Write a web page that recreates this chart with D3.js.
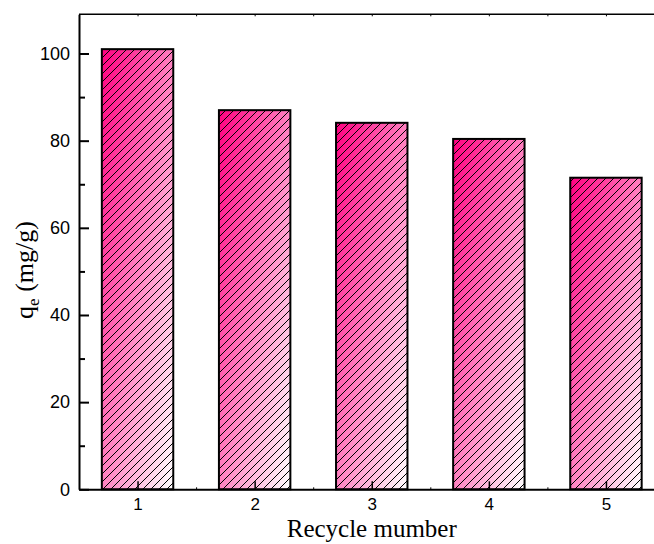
<!DOCTYPE html>
<html><head><meta charset="utf-8">
<script src="https://cdn.jsdelivr.net/npm/d3@7"></script>
<style>body{margin:0;background:#fff}</style>
</head><body><svg id="c" width="654" height="544"></svg>
<script>
const categories = [1, 2, 3, 4, 5];
const qeValues = [101.0, 87.0, 84.1, 80.4, 71.5];
const yTicks = [0, 20, 40, 60, 80, 100];
const yMinorTicks = [10, 30, 50, 70, 90];
const xMinorTicks = [1.5, 2.5, 3.5, 4.5, 5.5];
const xTitle = "Recycle mumber";

const svg = d3.select("#c");
const x = d3.scaleLinear().domain([0.5, 5.5]).range([79, 664.5]);
const y = d3.scaleLinear().domain([0, 109]).range([489.3, 14.3]);
const barW = 0.61;
const sans = "Liberation Sans, Arial, sans-serif";
const serif = "Liberation Serif, Times New Roman, serif";

const defs = svg.append("defs");
const grad = defs.append("linearGradient").attr("id", "barGrad")
  .attr("x1", 0).attr("y1", 0).attr("x2", 1).attr("y2", 1);
grad.append("stop").attr("offset", 0).attr("stop-color", "#ff0080");
grad.append("stop").attr("offset", 1).attr("stop-color", "#ffffff");

const sp = 8;
const pat = defs.append("pattern").attr("id", "hatch")
  .attr("patternUnits", "userSpaceOnUse").attr("width", sp).attr("height", sp);
pat.append("path")
  .attr("d", `M0,${sp} L${sp},0 M-1,1 L1,-1 M${sp - 1},${sp + 1} L${sp + 1},${sp - 1}`)
  .attr("stroke", "#000").attr("stroke-width", 1).attr("shape-rendering", "crispEdges");

const data = categories.map((c, i) => ({c, v: qeValues[i]}));
const g = svg.append("g");
const bx = d => x(d.c - barW / 2), bw = () => x(barW) - x(0);
g.selectAll(".bg").data(data).join("rect")
  .attr("x", bx).attr("width", bw).attr("y", d => y(d.v)).attr("height", d => y(0) - y(d.v))
  .attr("fill", "url(#barGrad)");
g.selectAll(".ht").data(data).join("rect")
  .attr("x", bx).attr("width", bw).attr("y", d => y(d.v)).attr("height", d => y(0) - y(d.v))
  .attr("fill", "url(#hatch)");
g.selectAll(".ol").data(data).join("rect")
  .attr("x", bx).attr("width", bw).attr("y", d => y(d.v)).attr("height", d => y(0) - y(d.v))
  .attr("fill", "none").attr("stroke", "#000").attr("stroke-width", 2);

// top frame line
svg.append("line").attr("x1", x(0.5)).attr("x2", 654).attr("y1", y(109)).attr("y2", y(109))
  .attr("stroke", "#000").attr("stroke-width", 1.5);
svg.append("g").attr("transform", `translate(0,${y(109)})`)
  .call(d3.axisTop(x).tickValues(categories.concat(xMinorTicks)).tickSize(-2).tickSizeOuter(0).tickFormat(""))
  .call(s => s.select(".domain").remove());

// left axis
const yAx = svg.append("g").attr("transform", `translate(${x(0.5)},0)`)
  .call(d3.axisLeft(y).tickValues(yTicks).tickSize(-10).tickSizeOuter(0).tickPadding(9).tickFormat(d3.format("d")));
yAx.select(".domain").attr("stroke-width", 2);
yAx.selectAll(".tick line").attr("stroke-width", 2);
yAx.selectAll("text").attr("font-family", sans).attr("font-size", 18).attr("fill", "#000");
const yMin = svg.append("g").attr("transform", `translate(${x(0.5)},0)`)
  .call(d3.axisLeft(y).tickValues(yMinorTicks).tickSize(-6).tickSizeOuter(0).tickFormat(""));
yMin.select(".domain").remove();
yMin.selectAll(".tick line").attr("stroke-width", 2);

// bottom axis
const xAx = svg.append("g").attr("transform", `translate(0,${y(0)})`)
  .call(d3.axisBottom(x).tickValues(categories).tickSize(-8).tickSizeOuter(0).tickPadding(9).tickFormat(d3.format("d")));
xAx.select(".domain").attr("stroke-width", 2);
xAx.selectAll(".tick line").attr("stroke-width", 1.5);
xAx.selectAll("text").attr("font-family", sans).attr("font-size", 17).attr("fill", "#000");
const xMin = svg.append("g").attr("transform", `translate(0,${y(0)})`)
  .call(d3.axisBottom(x).tickValues(xMinorTicks).tickSize(-2).tickSizeOuter(0).tickFormat(""));
xMin.select(".domain").remove();

// titles
svg.append("text").attr("x", (x(0.5) + x(5.5)) / 2).attr("y", 537)
  .attr("text-anchor", "middle").attr("font-family", serif)
  .attr("font-size", 25).text(xTitle);
const yt = svg.append("text").attr("transform", "translate(33,270) rotate(-90)")
  .attr("text-anchor", "middle").attr("font-family", serif)
  .attr("font-size", 26);
yt.append("tspan").text("q");
yt.append("tspan").attr("font-size", 17).attr("dy", 6).text("e");
yt.append("tspan").attr("dy", -6).text(" (mg/g)");
</script></body></html>
